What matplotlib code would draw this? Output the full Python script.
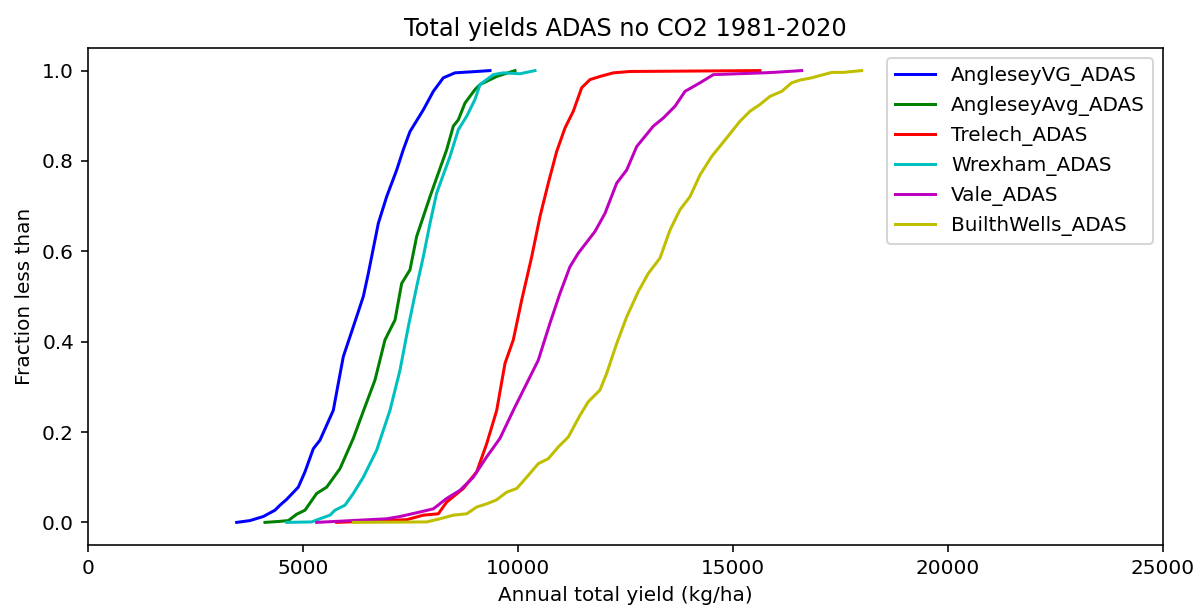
import matplotlib
matplotlib.use("Agg")
import matplotlib.pyplot as plt

# Cumulative distributions of annual total yield (kg/ha) per site
anglesey_vg_x = [3458, 3767, 4077, 4349, 4465, 4621, 4891, 5047, 5240, 5395, 5705, 5822,
                 5938, 6170, 6403, 6519, 6752, 6946, 7179, 7333, 7488, 7798, 8031, 8263,
                 8535, 9039, 9349]
anglesey_vg_y = [0.0, 0.004, 0.013, 0.027, 0.038, 0.051, 0.078, 0.112, 0.163, 0.182, 0.248, 0.308,
                 0.367, 0.433, 0.5, 0.551, 0.662, 0.721, 0.780, 0.825, 0.865, 0.913, 0.954, 0.984,
                 0.995, 0.998, 1.0]

anglesey_avg_x = [4116, 4426, 4659, 4853, 5047, 5318, 5551, 5861, 6170, 6442, 6674, 6907,
                  7140, 7295, 7488, 7644, 7954, 8147, 8342, 8496, 8612, 8767, 9000, 9116,
                  9505, 9930]
anglesey_avg_y = [0.0, 0.002, 0.004, 0.018, 0.027, 0.064, 0.078, 0.119, 0.186, 0.256, 0.315, 0.404,
                  0.448, 0.529, 0.559, 0.633, 0.721, 0.773, 0.825, 0.877, 0.891, 0.928, 0.958, 0.969,
                  0.987, 1.0]

trelech_x = [5784, 7412, 7798, 8147, 8342, 8728, 9040, 9272, 9505, 9698, 9891, 10086,
             10319, 10512, 10705, 10900, 11093, 11286, 11481, 11674, 11907, 12217, 12605, 15628]
trelech_y = [0.0, 0.006, 0.016, 0.019, 0.045, 0.075, 0.112, 0.174, 0.248, 0.352, 0.404, 0.492,
             0.588, 0.677, 0.751, 0.821, 0.873, 0.910, 0.962, 0.980, 0.987, 0.995, 0.998, 1.0]

wrexham_x = [4621, 5202, 5395, 5628, 5744, 5977, 6170, 6403, 6714, 7023, 7256, 7449,
             7644, 7798, 7954, 8109, 8419, 8612, 8807, 9000, 9116, 9426, 9658, 10047, 10395]
wrexham_y = [0.0, 0.001, 0.008, 0.016, 0.027, 0.038, 0.064, 0.100, 0.160, 0.248, 0.337, 0.433,
             0.522, 0.588, 0.662, 0.729, 0.810, 0.869, 0.899, 0.936, 0.969, 0.991, 0.995, 0.993, 1.0]

vale_x = [5318, 6946, 7256, 7721, 8031, 8342, 8651, 8961, 9272, 9581, 9891, 10472,
          10744, 10977, 11209, 11403, 11791, 12023, 12296, 12528, 12761, 13147, 13379, 13651,
          13884, 14233, 14542, 15705, 15937, 16598]
vale_y = [0.0, 0.008, 0.013, 0.023, 0.030, 0.053, 0.071, 0.100, 0.145, 0.186, 0.248, 0.359,
          0.441, 0.507, 0.566, 0.596, 0.644, 0.684, 0.751, 0.780, 0.832, 0.877, 0.895, 0.921,
          0.954, 0.973, 0.991, 0.995, 0.996, 1.0]

builth_x = [6170, 7877, 8186, 8496, 8807, 9040, 9272, 9505, 9737, 9970, 10202, 10472,
            10705, 10937, 11170, 11442, 11635, 11907, 12063, 12296, 12528, 12798, 13030, 13302,
            13535, 13767, 14000, 14233, 14505, 14853, 15163, 15395, 15628, 15861, 16133, 16365,
            16558, 16830, 17296, 17565, 17993]
builth_y = [0.0, 0.001, 0.008, 0.016, 0.019, 0.034, 0.041, 0.050, 0.067, 0.075, 0.100, 0.130,
            0.141, 0.167, 0.189, 0.237, 0.267, 0.293, 0.330, 0.396, 0.455, 0.511, 0.551, 0.585,
            0.647, 0.692, 0.721, 0.769, 0.810, 0.851, 0.888, 0.910, 0.925, 0.943, 0.954, 0.973,
            0.979, 0.984, 0.996, 0.996, 1.0]

series = [
    ("AngleseyVG_ADAS", anglesey_vg_x, anglesey_vg_y, "b"),
    ("AngleseyAvg_ADAS", anglesey_avg_x, anglesey_avg_y, "g"),
    ("Trelech_ADAS", trelech_x, trelech_y, "r"),
    ("Wrexham_ADAS", wrexham_x, wrexham_y, "c"),
    ("Vale_ADAS", vale_x, vale_y, "m"),
    ("BuilthWells_ADAS", builth_x, builth_y, "y"),
]

DPI = 144
fig = plt.figure(figsize=(1197 / DPI, 606 / DPI), dpi=DPI)
ax = fig.add_axes([0.0735, 0.1007, 0.8981, 0.8201])

for name, xs, ys, col in series:
    ax.plot(xs, ys, color=col, label=name)

ax.set_xlim(0, 25000)
ax.set_ylim(-0.05, 1.05)
ax.set_title("Total yields ADAS no CO2 1981-2020")
ax.set_xlabel("Annual total yield (kg/ha)")
ax.set_ylabel("Fraction less than")
ax.legend(loc="upper right")

fig.savefig("out.png", dpi=DPI)
